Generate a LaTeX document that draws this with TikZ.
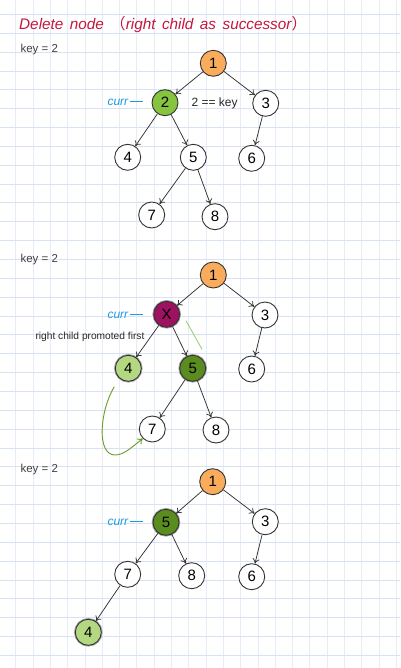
\documentclass[tikz,border=0pt]{standalone}
\usepackage{fontspec}
\setmainfont{Liberation Sans}
\newfontfamily\cjk{Noto Sans CJK SC}
\usetikzlibrary{arrows.meta}
\definecolor{titlered}{HTML}{C4163E}
\definecolor{hgridc}{HTML}{D9E2F3}
\definecolor{vgridc}{HTML}{E6ECF8}
\definecolor{edgec}{HTML}{333333}
\definecolor{orangefill}{HTML}{F9AC5B}
\definecolor{greenfill}{HTML}{86C33F}
\definecolor{lightgreen}{HTML}{B4D882}
\definecolor{darkgreen}{HTML}{5B8C1F}
\definecolor{maroon}{HTML}{9C1260}
\definecolor{currblue}{HTML}{1A9BE0}
\definecolor{arrowgreen}{HTML}{6A9E2A}
\definecolor{strokegreen}{HTML}{9FD07A}
\tikzset{
  hgrid/.style={draw=hgridc, line width=1pt},
  vgrid/.style={draw=vgridc, line width=0.8pt},
  nd/.style={circle, draw=edgec, line width=0.9pt, minimum size=26pt, inner sep=0pt, fill=white, font=\fontsize{15}{15}\selectfont},
  halo/.style={preaction={draw=black!35, line width=2.6pt}},
  edge/.style={draw=edgec, line width=0.75pt, -{To[length=5pt,width=7pt]}},
  keylbl/.style={anchor=west, text=black!75, font=\fontsize{11.5}{12}\selectfont},
  currlbl/.style={anchor=west, text=currblue, font=\fontsize{12}{12}\selectfont\itshape},
  note/.style={text=black!85, font=\fontsize{12}{12}\selectfont},
}
\begin{document}
\begin{tikzpicture}[x=1pt,y=-1pt]
\useasboundingbox (0,0) rectangle (400,668);
\fill[white] (0,0) rectangle (400,668);
\foreach \k in {0,...,22} \draw[vgrid] ({15.7+17.3*\k},0) -- ({15.7+17.3*\k},668);
\foreach \k in {0,...,34} \draw[hgrid] (0,{14.5+18.85*\k}) -- (400,{14.5+18.85*\k});

% title
\node[anchor=west, inner sep=0pt, text=titlered, font=\fontsize{15.3}{18}\selectfont\itshape] (title) at (19,25)
  {\spaceskip=6.5pt Delete node {\cjk （}right child as successor{\cjk ）}};

% ---------- section 1 ----------
\node[keylbl] (k1) at (17,50) {key = 2};
\node[nd, fill=orangefill] (a1) at (213.3,63.3) {1};
\node[nd, fill=greenfill] (a2) at (165,102.7) {2};
\node[nd] (a3) at (265.7,103.3) {3};
\node[nd] (a4) at (127.7,157.3) {4};
\node[nd] (a5) at (193.3,157.3) {5};
\node[nd] (a6) at (251.7,158.3) {6};
\node[nd] (a7) at (151.7,215) {7};
\node[nd] (a8) at (215,216.7) {8};
\node[currlbl] (c1) at (104,102) {curr};
\coordinate (c1a) at (130,101);
\coordinate (c1b) at (143,101);
\draw[currblue, line width=0.8pt] (c1a) -- (c1b);
\node[note, anchor=west] (eq1) at (188,103) {2 == key};
\draw[edge] (a1) -- (a2);
\draw[edge] (a1) -- (a3);
\draw[edge] (a2) -- (a4);
\draw[edge] (a2) -- (a5);
\draw[edge] (a3) -- (a6);
\draw[edge] (a5) -- (a7);
\draw[edge] (a5) -- (a8);

% ---------- section 2 ----------
\node[keylbl] (k2) at (17,259.5) {key = 2};
\node[nd, fill=orangefill] (b1) at (213.3,275) {1};
\node[nd, fill=maroon, halo] (bx) at (166.7,314.3) {X};
\node[nd] (b3) at (265,315) {3};
\node[nd, fill=lightgreen, halo] (b4) at (128.3,368.3) {4};
\node[nd, fill=darkgreen, halo] (b5) at (192.7,368.3) {5};
\node[nd] (b6) at (251.7,369) {6};
\node[nd] (b7) at (152.3,429) {7};
\node[nd] (b8) at (216,430) {8};
\node[currlbl] (c2) at (104,315) {curr};
\coordinate (c2a) at (130,314);
\coordinate (c2b) at (143,314);
\draw[currblue, line width=0.8pt] (c2a) -- (c2b);
\node[note, anchor=west, font=\fontsize{10.2}{11}\selectfont] (prom) at (32,336.7) {right child promoted first};
\draw[edge] (b1) -- (bx);
\draw[edge] (b1) -- (b3);
\draw[edge] (bx) -- (b4);
\draw[edge] (bx) -- (b5);
\draw[edge] (b3) -- (b6);
\draw[edge] (b5) -- (b7);
\draw[edge] (b5) -- (b8);
\coordinate (g1) at (186,320.7);
\coordinate (g2) at (202,349.3);
\draw[strokegreen, line width=0.9pt] (g1) -- (g2);
\coordinate (mv) at (114.3,386.7);
\draw[arrowgreen, line width=0.9pt, -{To[length=5pt,width=7pt]}] (mv) .. controls (100,410) and (96,455) .. (115,455) .. controls (124,455) and (132,447) .. (b7.south west);

% ---------- section 3 ----------
\node[keylbl] (k3) at (17,470) {key = 2};
\node[nd, fill=orangefill] (d1) at (212.7,481.7) {1};
\node[nd, fill=darkgreen, halo] (d5) at (166,522.3) {5};
\node[nd] (d3) at (265.3,521.7) {3};
\node[nd] (d7) at (127.7,574.3) {7};
\node[nd] (d8) at (191.7,575.7) {8};
\node[nd] (d6) at (251.7,576.7) {6};
\node[nd, fill=lightgreen, halo] (d4) at (88.3,632.3) {4};
\node[currlbl] (c3) at (104,522) {curr};
\coordinate (c3a) at (130,521);
\coordinate (c3b) at (143,521);
\draw[currblue, line width=0.8pt] (c3a) -- (c3b);
\draw[edge] (d1) -- (d5);
\draw[edge] (d1) -- (d3);
\draw[edge] (d5) -- (d7);
\draw[edge] (d5) -- (d8);
\draw[edge] (d3) -- (d6);
\draw[edge] (d7) -- (d4);
\end{tikzpicture}
\end{document}
